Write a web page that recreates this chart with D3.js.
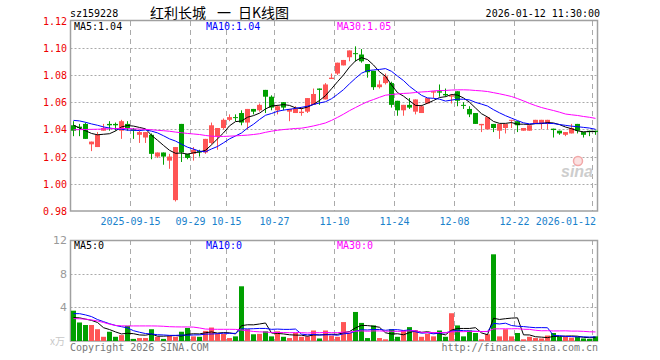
<!DOCTYPE html>
<html><head><meta charset="utf-8">
<script src="https://cdn.jsdelivr.net/npm/d3@7"></script>
<style>body{margin:0;background:#fff;} svg{display:block;}</style>
</head><body>
<svg id="c" width="660" height="360"></svg>
<script>
const dates = [
"2025-09-01","2025-09-02","2025-09-03","2025-09-04","2025-09-05","2025-09-08","2025-09-09","2025-09-10","2025-09-11","2025-09-12",
"2025-09-15","2025-09-16","2025-09-17","2025-09-18","2025-09-19","2025-09-22","2025-09-23","2025-09-24","2025-09-25","2025-09-26",
"2025-09-29","2025-09-30","2025-10-09","2025-10-10","2025-10-13","2025-10-14","2025-10-15","2025-10-16","2025-10-17","2025-10-20",
"2025-10-21","2025-10-22","2025-10-23","2025-10-24","2025-10-27","2025-10-28","2025-10-29","2025-10-30","2025-10-31","2025-11-03",
"2025-11-04","2025-11-05","2025-11-06","2025-11-07","2025-11-10","2025-11-11","2025-11-12","2025-11-13","2025-11-14","2025-11-17",
"2025-11-18","2025-11-19","2025-11-20","2025-11-21","2025-11-24","2025-11-25","2025-11-26","2025-11-27","2025-11-28","2025-12-01",
"2025-12-02","2025-12-03","2025-12-04","2025-12-05","2025-12-08","2025-12-09","2025-12-10","2025-12-11","2025-12-12","2025-12-15",
"2025-12-16","2025-12-17","2025-12-18","2025-12-19","2025-12-22","2025-12-23","2025-12-24","2025-12-25","2025-12-26","2025-12-29",
"2025-12-30","2025-12-31","2026-01-05","2026-01-06","2026-01-07","2026-01-08","2026-01-09","2026-01-12"];

const open = [
1.043,1.042,1.044,1.029,1.027,1.039,1.044,1.044,1.039,1.044,
1.040,1.036,1.034,1.036,1.020,1.023,1.017,0.988,1.044,1.022,
1.022,1.024,1.023,1.030,1.035,1.041,1.047,1.049,1.052,1.045,
1.055,1.054,1.069,1.064,1.054,1.060,1.053,1.052,1.052,1.053,
1.058,1.070,1.062,1.077,1.081,1.087,1.093,1.096,1.095,1.088,
1.083,1.071,1.074,1.074,1.061,1.054,1.058,1.053,1.052,1.059,
1.067,1.068,1.066,1.064,1.068,1.058,1.055,1.052,1.043,1.040,
1.044,1.039,1.041,1.0465,1.046,1.039,1.039,1.044,1.044,1.044,
1.0405,1.039,1.036,1.037,1.044,1.038,1.039,1.039];
const close = [
1.039,1.041,1.033,1.031,1.036,1.041,1.043,1.043,1.046,1.041,
1.039,1.038,1.038,1.022,1.023,1.020,1.020,1.027,1.023,1.019,
1.025,1.023,1.033,1.043,1.041,1.047,1.049,1.0485,1.045,1.055,
1.053,1.058,1.064,1.056,1.057,1.056,1.055,1.055,1.053,1.063,
1.066,1.069,1.073,1.078,1.089,1.091,1.098,1.0955,1.090,1.082,
1.071,1.073,1.079,1.058,1.054,1.058,1.056,1.062,1.057,1.063,
1.068,1.067,1.065,1.065,1.061,1.0575,1.051,1.044,1.044,1.049,
1.041,1.044,1.044,1.047,1.043,1.041,1.043,1.047,1.047,1.047,
1.0395,1.037,1.038,1.041,1.039,1.036,1.038,1.038];
const high = [
1.046,1.044,1.045,1.031,1.038,1.044,1.046,1.045,1.047,1.046,
1.041,1.039,1.038,1.037,1.023,1.023,1.022,1.027,1.044,1.022,
1.027,1.025,1.033,1.045,1.041,1.048,1.051,1.051,1.054,1.055,
1.055,1.059,1.069,1.065,1.058,1.060,1.055,1.057,1.056,1.063,
1.070,1.070,1.074,1.081,1.089,1.091,1.098,1.101,1.099,1.088,
1.083,1.076,1.081,1.075,1.061,1.058,1.063,1.062,1.058,1.063,
1.068,1.073,1.070,1.066,1.068,1.060,1.057,1.052,1.044,1.049,
1.044,1.044,1.044,1.047,1.046,1.041,1.043,1.047,1.047,1.047,
1.0405,1.039,1.038,1.044,1.044,1.038,1.039,1.039];
const low = [
1.035,1.035,1.033,1.024,1.027,1.039,1.039,1.039,1.033,1.039,
1.033,1.030,1.030,1.018,1.019,1.014,1.011,0.987,1.016,1.018,
1.017,1.020,1.022,1.029,1.025,1.040,1.046,1.046,1.043,1.040,
1.051,1.053,1.052,1.054,1.051,1.054,1.046,1.052,1.050,1.052,
1.058,1.058,1.062,1.077,1.080,1.087,1.090,1.090,1.089,1.078,
1.069,1.070,1.073,1.056,1.050,1.050,1.055,1.051,1.052,1.059,
1.063,1.064,1.064,1.059,1.057,1.055,1.049,1.044,1.038,1.040,
1.038,1.033,1.037,1.041,1.038,1.039,1.039,1.044,1.040,1.040,
1.034,1.036,1.035,1.037,1.037,1.034,1.035,1.036];
const volume = [
3.6,2.2,1.9,1.9,1.4,0.5,1.1,0.5,0.7,1.8,
0.25,0.35,0.35,1.4,0.5,0.25,0.6,0.5,1.1,1.55,
0.55,0.5,1.2,1.6,0.85,0.85,0.35,0.55,6.5,1.4,
0.8,0.85,1.15,0.55,1.15,0.5,0.35,0.95,0.5,0.55,
1.25,0.3,1.25,0.65,0.5,2.25,0.95,3.45,2.15,0.35,
1.85,0.35,0.2,1.4,0.5,1.25,1.65,1.25,0.5,0.85,
0.55,1.25,0.5,3.3,1.85,0.55,1.25,0.95,0.2,0.8,
10.3,0.55,1.4,0.55,0.95,0.2,0.5,0.35,0.3,0.65,
0.95,0.5,0.5,0.4,0.5,0.3,0.25,0.55];

// moving-average values for the first days (window not yet full)
const ma5Seed = [1.043,1.041,1.039,1.037];
const ma10Seed = [1.0466,1.0462,1.0452,1.044,1.043,1.0418,1.041,1.0403,1.0401];
const ma30Seed = [1.0397,1.0398,1.0399,1.0400,1.0401,1.0403,1.0405,1.0406,1.0407,1.0406,
1.0404,1.0402,1.0400,1.0397,1.0393,1.0390,1.0386,1.0380,1.0375,1.0370,
1.0366,1.0362,1.0355,1.0350,1.0348,1.0348,1.0350,1.0352,1.0355];
const vma5Seed = [2.78,2.75,2.6,2.45];
const vma10Seed = [3.25,3.25,3.1,2.9,2.55,2.3,2.05,1.85,1.7];
const vma30Seed = [2.66,2.64,2.6,2.5,2.38,2.2,2.0,1.85,1.8,1.79,1.79,1.79,1.79,1.79,1.78,1.75,1.7,1.68,1.67,1.67,1.65,1.55,1.42,1.4,1.39,1.39,1.39,1.38,1.3];

const priceTicks = [0.98,1.00,1.02,1.04,1.06,1.08,1.10,1.12];
const volTicks = [4,8,12];
const labelDates = ["2025-09-15","2025-09-29","2025-10-15","2025-10-27","2025-11-10","2025-11-24","2025-12-08","2025-12-22","2026-01-12"];
const labelText = ["2025-09-15","09-29","10-15","10-27","11-10","11-24","12-08","12-22","2026-01-12"];
const maNames = ["MA5","MA10","MA30"];
const maColors = ["#000000","#0000ff","#ff00ff"];
const volLegendVals = ["0","0","0"];
const titleParts = ["红利长城","一","日K线图"];

const RED="#ff5555", GREEN="#00a000", MONO="'DejaVu Sans Mono', monospace";

function ma(arr,n,seed){return arr.map((_,i)=> i<n-1 ? seed[i] : d3.mean(arr.slice(i-n+1,i+1)));}
const pMA = [ma(close,5,ma5Seed), ma(close,10,ma10Seed), ma(close,30,ma30Seed)];
const vMA = [ma(volume,5,vma5Seed), ma(volume,10,vma10Seed), ma(volume,30,vma30Seed)];

const svg = d3.select("#c");
svg.append("rect").attr("width",660).attr("height",360).attr("fill","#fff");

const L=70.5, R=597.5;
const x = d3.scaleBand().domain(dates).range([69.7,597.7]);
const cx = d => Math.round(x(d)+x.bandwidth()/2);
const yP = d3.scaleLinear().domain([0.98,1.12]).range([211,20.5]);
const yV = d3.scaleLinear().domain([0,12]).range([341,240]);
const crisp = v => Math.round(v)+0.5;
const gx = d => cx(d)-2.5;

// ---- titles
svg.append("text").attr("x",70).attr("y",17).attr("font-family",MONO).attr("font-size",10).attr("fill","#000").text("sz159228");
const titleX=[150,217,238];
titleParts.forEach((t,k)=>{
  svg.append("text").attr("x",titleX[k]).attr("y",18).attr("font-family","'Noto Sans CJK SC'").attr("font-size",14).attr("fill","#000").text(t);
});
svg.append("text").attr("x",600).attr("y",17).attr("text-anchor","end").attr("font-family",MONO).attr("font-size",10).attr("fill","#000").text("2026-01-12 11:30:00");

// ---- price panel grid
const gP = svg.append("g");
gP.selectAll("line.h").data(priceTicks.slice(1,-1)).join("line")
  .attr("x1",L).attr("x2",R).attr("y1",d=>crisp(yP(d))).attr("y2",d=>crisp(yP(d)))
  .attr("stroke","#aaa").attr("stroke-dasharray","2,2");
gP.selectAll("line.v").data(labelDates).join("line")
  .attr("x1",gx).attr("x2",gx).attr("y1",21).attr("y2",211)
  .attr("stroke","#aaa").attr("stroke-dasharray","5,4");
gP.append("rect").attr("x",L).attr("y",20.5).attr("width",R-L).attr("height",190.5)
  .attr("fill","none").attr("stroke","#a0a0a0").attr("stroke-width",1.5);
gP.selectAll("text.y").data(priceTicks).join("text")
  .attr("x",67).attr("y",d=>yP(d)+4).attr("text-anchor","end")
  .attr("font-family",MONO).attr("font-size",10).attr("fill","#ee0000")
  .text(d=>d3.format(".2f")(d));
gP.selectAll("text.x").data(labelDates).join("text")
  .attr("x",(d,i)=> i===labelDates.length-1 ? 596 : gx(d))
  .attr("text-anchor",(d,i)=> i===labelDates.length-1 ? "end":"middle")
  .attr("y",225).attr("font-family",MONO).attr("font-size",10).attr("fill","#1a82cc")
  .text((d,i)=>labelText[i]);

// watermark
const wm = svg.append("g");
wm.append("circle").attr("cx",578).attr("cy",161).attr("r",4.5).attr("fill","#fbe1e1").attr("stroke","#f2a8a8").attr("stroke-width",1.5);
wm.append("text").attr("x",561).attr("y",177).attr("font-family","'Liberation Sans', Arial").attr("font-weight","bold").attr("font-style","italic").attr("font-size",16).attr("fill","#cdcdcd").text("sina");

// ---- candles
const idx = d3.range(dates.length);
const col = i => close[i] > open[i] ? RED : GREEN;
const gC = svg.append("g");
gC.selectAll("line.w").data(idx).join("line")
  .attr("x1",i=>cx(dates[i])+0.5).attr("x2",i=>cx(dates[i])+0.5)
  .attr("y1",i=>yP(high[i])).attr("y2",i=>yP(low[i])).attr("stroke",col);
gC.selectAll("rect.b").data(idx).join("rect")
  .attr("x",i=>cx(dates[i])-2).attr("width",5)
  .attr("y",i=>yP(Math.max(open[i],close[i])))
  .attr("height",i=>Math.max(1,yP(Math.min(open[i],close[i]))-yP(Math.max(open[i],close[i]))))
  .attr("fill",col);

// MA lines price
pMA.forEach((arr,k)=>{
  svg.append("path").attr("fill","none").attr("stroke",maColors[k]).attr("stroke-width",1)
    .attr("d",d3.line().x(i=>cx(dates[i])+0.5).y(i=>yP(arr[i]))(idx));
});
const legX=[74,206,337];
maNames.forEach((n,k)=>{
  svg.append("text").attr("x",legX[k]).attr("y",30).attr("font-family",MONO).attr("font-size",10)
    .attr("fill",maColors[k]).text(n+":"+d3.format(".2f")(pMA[k][pMA[k].length-1]));
});

// ---- volume panel
const gV = svg.append("g");
gV.selectAll("line.h").data(volTicks.slice(0,-1)).join("line")
  .attr("x1",L).attr("x2",R).attr("y1",d=>crisp(yV(d))).attr("y2",d=>crisp(yV(d)))
  .attr("stroke","#aaa").attr("stroke-dasharray","2,2");
gV.selectAll("line.v").data(labelDates).join("line")
  .attr("x1",gx).attr("x2",gx).attr("y1",240).attr("y2",341)
  .attr("stroke","#aaa").attr("stroke-dasharray","5,4");
gV.append("rect").attr("x",L).attr("y",240.5).attr("width",R-L).attr("height",100.5)
  .attr("fill","none").attr("stroke","#a0a0a0").attr("stroke-width",1.5);
gV.selectAll("text.y").data(volTicks).join("text")
  .attr("x",67).attr("y",d=>yV(d)+4).attr("text-anchor","end")
  .attr("font-family","'DejaVu Sans', sans-serif").attr("font-size",11).attr("fill","#999")
  .text(d=>d);
gV.append("text").attr("x",65).attr("y",345).attr("text-anchor","end").attr("font-family","'Noto Sans CJK SC'").attr("font-size",10).attr("fill","#c8c8c8").text("x万");
gV.selectAll("rect.vb").data(idx).join("rect")
  .attr("x",i=>cx(dates[i])-2).attr("width",5)
  .attr("y",i=>yV(volume[i])).attr("height",i=>yV(0)-yV(volume[i]))
  .attr("fill",col);
vMA.forEach((arr,k)=>{
  svg.append("path").attr("fill","none").attr("stroke",maColors[k]).attr("stroke-width",1)
    .attr("d",d3.line().x(i=>cx(dates[i])+0.5).y(i=>yV(arr[i]))(idx));
});
maNames.forEach((n,k)=>{
  svg.append("text").attr("x",legX[k]).attr("y",249).attr("font-family",MONO).attr("font-size",10)
    .attr("fill",maColors[k]).text(n+":"+volLegendVals[k]);
});
svg.append("text").attr("x",70).attr("y",351).attr("font-family",MONO).attr("font-size",10).attr("fill","#777").text("Copyright 2026 SINA.COM");
svg.append("text").attr("x",598).attr("y",351).attr("text-anchor","end").attr("font-family",MONO).attr("font-size",10).attr("fill","#777").text("http://finance.sina.com.cn");
</script>
</body></html>
